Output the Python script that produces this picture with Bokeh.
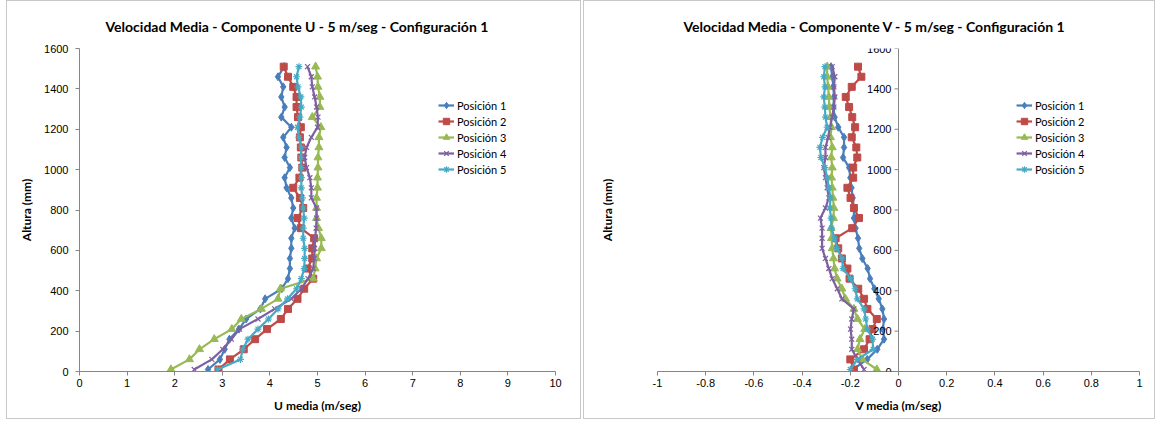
import numpy as np
from bokeh.plotting import figure
from bokeh.layouts import row
from bokeh.models import (FixedTicker, NumeralTickFormatter, Legend, LegendItem, Span,
                          ColumnDataSource, LabelSet, Range1d)
from bokeh.core.properties import value
from bokeh.embed import file_html
from bokeh.resources import INLINE

# ---------------- data ----------------
altura = [10, 60, 110, 160, 210, 260, 310, 360, 410, 460, 510, 560, 610, 660, 710, 760,
          810, 860, 910, 960, 1010, 1060, 1110, 1160, 1210, 1260, 1310, 1360, 1410, 1460, 1510]

u_pos1 = [2.70, 2.95, 3.05, 3.15, 3.35, 3.50, 3.80, 3.90, 4.25, 4.38, 4.42, 4.42, 4.45, 4.45, 4.52, 4.45,
          4.49, 4.45, 4.35, 4.31, 4.42, 4.31, 4.35, 4.28, 4.45, 4.24, 4.31, 4.24, 4.28, 4.17, 4.30]
u_pos2 = [2.92, 3.16, 3.45, 3.69, 3.94, 4.23, 4.38, 4.58, 4.72, 4.91, 4.79, 4.89, 4.89, 4.93, 4.65, 4.58,
          4.70, 4.63, 4.49, 4.62, 4.68, 4.66, 4.65, 4.63, 4.65, 4.59, 4.56, 4.56, 4.49, 4.38, 4.29]
u_pos3 = [1.92, 2.31, 2.52, 2.83, 3.20, 3.40, 3.82, 4.17, 4.22, 4.91, 4.95, 4.98, 5.08, 5.08, 5.02, 4.98,
          4.98, 4.98, 5.00, 5.00, 5.01, 5.01, 5.03, 5.03, 5.07, 4.89, 5.05, 5.05, 5.01, 5.00, 4.96]
u_pos4 = [2.41, 2.78, 3.01, 3.19, 3.36, 3.75, 4.10, 4.45, 4.66, 4.80, 4.91, 4.93, 4.94, 4.95, 4.97, 4.98,
          4.98, 4.87, 4.87, 4.84, 4.77, 4.73, 4.77, 4.87, 5.00, 5.01, 4.98, 4.94, 4.89, 4.87, 4.79]
u_pos5 = [2.90, 3.38, 3.43, 3.54, 3.75, 3.97, 4.17, 4.37, 4.56, 4.66, 4.72, 4.73, 4.73, 4.70, 4.70, 4.72,
          4.70, 4.68, 4.66, 4.66, 4.66, 4.65, 4.66, 4.61, 4.58, 4.63, 4.66, 4.65, 4.59, 4.56, 4.61]

v_pos1 = [-0.190, -0.130, -0.088, -0.060, -0.065, -0.060, -0.067, -0.082, -0.100, -0.118, -0.128, -0.150,
          -0.163, -0.168, -0.178, -0.185, -0.185, -0.190, -0.195, -0.200, -0.205, -0.230, -0.226, -0.226,
          -0.250, -0.265, -0.270, -0.268, -0.270, -0.275, -0.280]
v_pos2 = [-0.185, -0.200, -0.143, -0.120, -0.108, -0.090, -0.129, -0.143, -0.167, -0.203, -0.212, -0.235,
          -0.250, -0.261, -0.192, -0.164, -0.185, -0.199, -0.212, -0.188, -0.188, -0.171, -0.175, -0.194,
          -0.180, -0.192, -0.205, -0.219, -0.194, -0.154, -0.168]
v_pos3 = [-0.090, -0.150, -0.170, -0.160, -0.140, -0.170, -0.185, -0.220, -0.235, -0.255, -0.265, -0.270,
          -0.275, -0.278, -0.280, -0.270, -0.268, -0.272, -0.275, -0.278, -0.275, -0.279, -0.275, -0.282,
          -0.278, -0.282, -0.287, -0.289, -0.292, -0.296, -0.296]
v_pos4 = [-0.143, -0.170, -0.194, -0.194, -0.199, -0.194, -0.185, -0.235, -0.254, -0.275, -0.289, -0.303,
          -0.317, -0.317, -0.317, -0.324, -0.303, -0.289, -0.296, -0.303, -0.310, -0.303, -0.303, -0.292,
          -0.285, -0.275, -0.268, -0.264, -0.268, -0.264, -0.275]
v_pos5 = [-0.200, -0.170, -0.105, -0.108, -0.129, -0.136, -0.143, -0.171, -0.180, -0.199, -0.230, -0.235,
          -0.255, -0.265, -0.278, -0.280, -0.285, -0.282, -0.289, -0.296, -0.305, -0.322, -0.326, -0.315,
          -0.296, -0.303, -0.306, -0.310, -0.305, -0.310, -0.305]

series_names = ["Posición 1", "Posición 2", "Posición 3", "Posición 4", "Posición 5"]
u_series = [u_pos1, u_pos2, u_pos3, u_pos4, u_pos5]
v_series = [v_pos1, v_pos2, v_pos3, v_pos4, v_pos5]

u_ticks = [0, 1, 2, 3, 4, 5, 6, 7, 8, 9, 10]
v_ticks = [-1, -0.8, -0.6, -0.4, -0.2, 0, 0.2, 0.4, 0.6, 0.8, 1]
h_ticks = [0, 200, 400, 600, 800, 1000, 1200, 1400, 1600]

titles = ["Velocidad Media - Componente U - 5 m/seg - Configuración 1",
          "Velocidad Media - Componente V - 5 m/seg - Configuración 1"]
x_labels = ["U media (m/seg)", "V media (m/seg)"]
y_label = "Altura (mm)"

# ---------------- style ----------------
colors = ["#4A7EBB", "#BE4B48", "#98B954", "#7D60A0", "#46AAC5"]
markers = ["diamond", "square", "triangle", "x", "asterisk"]
msizes = [8, 7, 8, 7, 7]
AXIS = "#868686"
TICK_FONT = "Liberation Sans"
TITLE_FONT = "Lato"
TOP, FRAME_H, BOTTOM = 49, 321, 49


def make_panel(xs_list, xr, xticks, title, xlabel, frame_w, left_b, right_b, center_axis):
    p = figure(width=left_b + frame_w + right_b, height=TOP + FRAME_H + BOTTOM,
               frame_width=frame_w, frame_height=FRAME_H,
               min_border_left=left_b, min_border_right=right_b,
               min_border_top=10, min_border_bottom=BOTTOM,
               x_range=Range1d(*xr), y_range=Range1d(0, 1600),
               output_backend="svg", toolbar_location=None,
               styles={"border": "1px solid #c8c8c8"})
    p.title.text = title
    p.title.align = "left"
    p.title.offset = 26
    p.title.text_font = TITLE_FONT
    p.title.text_font_style = "bold"
    p.title.text_font_size = "14px"
    p.title.text_color = "#000000"
    p.title.standoff = 28
    p.outline_line_color = None
    p.grid.grid_line_color = None
    p.background_fill_color = "white"
    p.border_fill_color = "white"

    for ax in (p.xaxis[0], p.yaxis[0]):
        ax.axis_line_color = AXIS
        ax.major_tick_line_color = AXIS
        ax.minor_tick_line_color = None
        ax.major_tick_in = 0
        ax.major_tick_out = 4
        ax.major_label_text_font = TICK_FONT
        ax.major_label_text_font_size = "11px"
        ax.major_label_text_color = "#000000"
        ax.axis_label_text_font = TITLE_FONT
        ax.axis_label_text_font_style = "bold"
        ax.axis_label_text_font_size = "12px"
        ax.axis_label_text_color = "#000000"

    p.xaxis.ticker = FixedTicker(ticks=xticks)
    p.xaxis.formatter = NumeralTickFormatter(format="0.[0]")
    p.xaxis.major_label_standoff = 3
    p.xaxis.axis_label = xlabel
    p.xaxis.axis_label_standoff = 8

    p.yaxis.ticker = FixedTicker(ticks=h_ticks)
    p.yaxis.major_label_standoff = 7
    p.yaxis.axis_label = y_label
    p.yaxis.axis_label_standoff = 7

    if center_axis:
        # the vertical axis sits at x = 0 inside the frame
        p.yaxis.axis_line_color = None
        p.yaxis.major_tick_line_color = None
        p.yaxis.major_label_text_color = None
        p.yaxis.axis_label_standoff = 39
        p.add_layout(Span(location=0, dimension="height", line_color=AXIS, line_width=1))
        p.ray(x=[0] * len(h_ticks), y=h_ticks, length=4, length_units="screen",
              angle=np.pi, line_color=AXIS, line_width=1)
        lab_src = ColumnDataSource(dict(x=[0] * len(h_ticks), y=h_ticks,
                                        t=[str(t) for t in h_ticks]))
        p.add_layout(LabelSet(x="x", y="y", text="t", source=lab_src, x_offset=-7,
                              text_align="right", text_baseline="middle",
                              text_font=value(TICK_FONT), text_font_size=value("11px"),
                              text_color="#000000"))

    items = []
    for name, xs, c, m, s in zip(series_names, xs_list, colors, markers, msizes):
        src = ColumnDataSource(dict(x=xs, y=altura))
        lr = p.line("x", "y", source=src, line_color=c, line_width=2.2)
        sr = p.scatter("x", "y", source=src, marker=m, size=s, line_color=c,
                       fill_color=c, line_width=1.2 if m in ("x", "asterisk") else 1)
        items.append(LegendItem(label=name, renderers=[lr, sr]))

    leg = Legend(items=items, location=(359, 194), margin=0, padding=0, spacing=0,
                 glyph_width=16, glyph_height=16, label_height=16, label_standoff=3,
                 label_text_font=TITLE_FONT, label_text_font_size="11px",
                 label_text_color="#000000", border_line_color=None,
                 background_fill_alpha=0)
    p.add_layout(leg)
    return p


p1 = make_panel(u_series, (0, 10), u_ticks, titles[0], x_labels[0], 474, 72, 27, False)
p2 = make_panel(v_series, (-1, 1), v_ticks, titles[1], x_labels[1], 480, 73, 17, True)

layout = row(p1, p2, spacing=2, margin=(0, 0, 0, 6))
open("out.html", "w").write(file_html(layout, INLINE))
